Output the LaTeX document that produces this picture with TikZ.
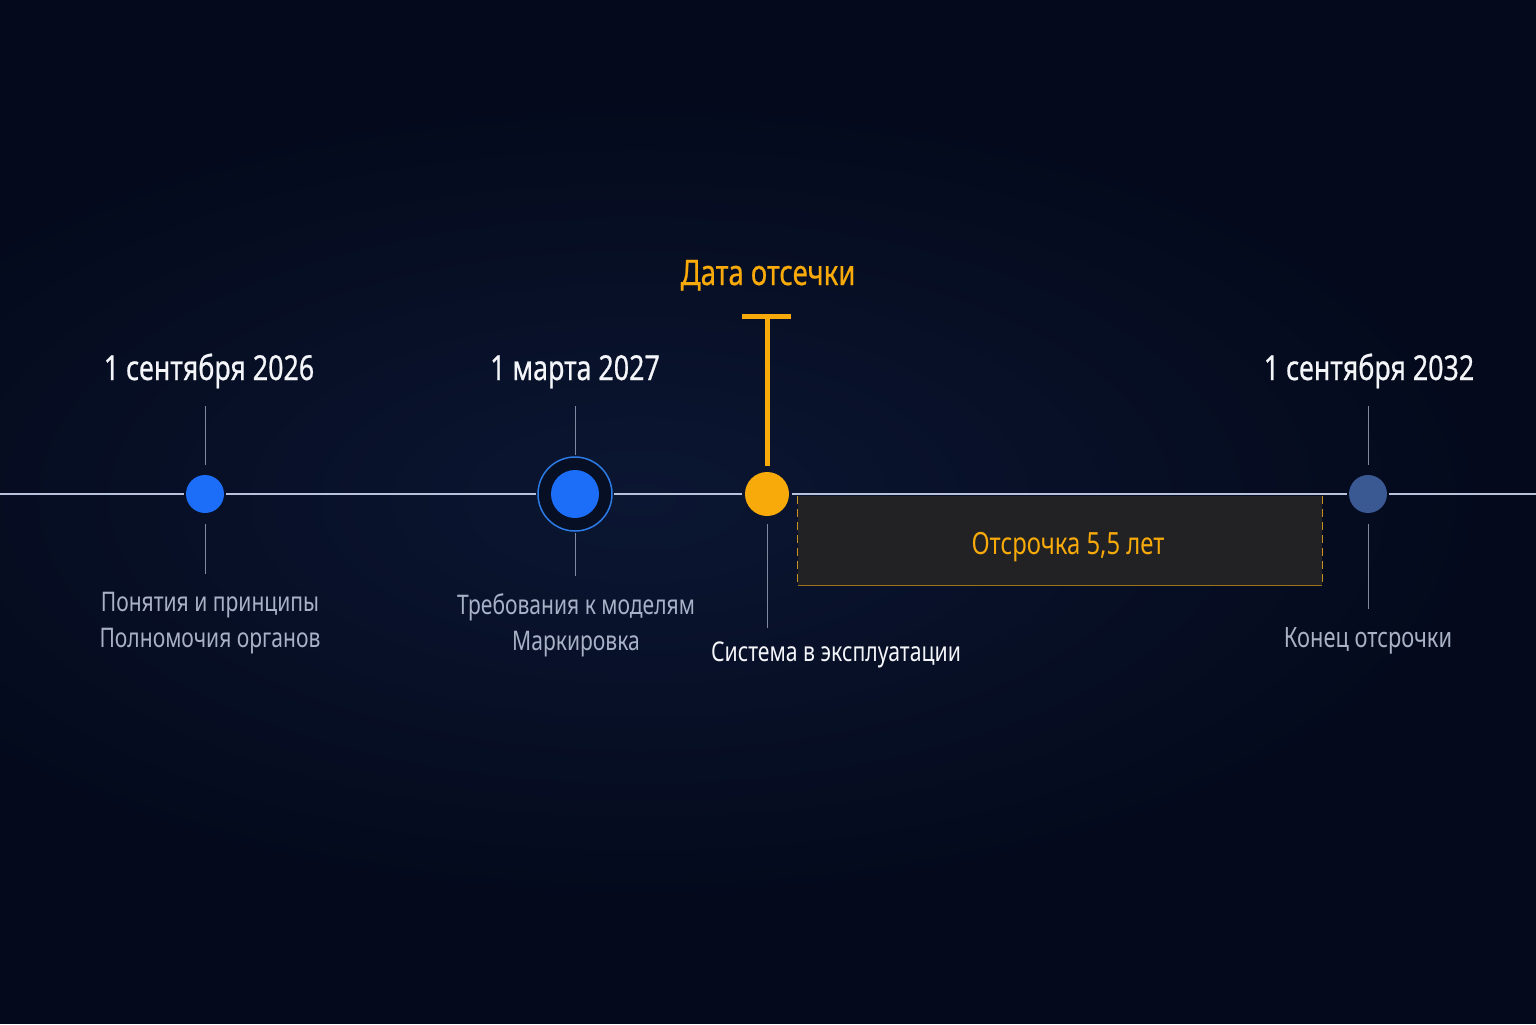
\documentclass[tikz,border=0pt]{standalone}
\usepackage{fontspec}
\setmainfont{Noto Sans}[FakeStretch=0.78]
\newfontfamily\heavyfont{Noto Sans}[FakeStretch=0.78,FakeBold=0.6]
\definecolor{bgouter}{HTML}{040A1C}
\definecolor{bginner}{HTML}{0B1632}
\definecolor{axis}{HTML}{B8C2DA}
\definecolor{tickc}{HTML}{7E889E}
\definecolor{blue1}{HTML}{1C6DF8}
\definecolor{ringc}{HTML}{2C7BE6}
\definecolor{orng}{HTML}{F7AA0A}
\definecolor{muted}{HTML}{3A5892}
\definecolor{greytxt}{HTML}{A9B1C6}
\definecolor{whitetxt}{HTML}{F3F5F9}
\definecolor{boxfill}{HTML}{222224}
\definecolor{boxedge}{HTML}{C8901E}
\begin{document}
\begin{tikzpicture}[x=0.5pt,y=-0.5pt,
  axisline/.style={draw=axis,line width=0.8pt},
  tickline/.style={draw=tickc,line width=0.5pt},
  dotbase/.style={circle,inner sep=0pt,outer sep=0pt},
  bluedot/.style={dotbase,fill=blue1,minimum size=19pt},
  ringdot/.style={dotbase,draw=ringc,line width=0.75pt,fill=bgouter!60!bginner,minimum size=37pt},
  innerdot/.style={dotbase,fill=blue1,minimum size=24pt},
  orangedot/.style={dotbase,fill=orng,minimum size=22pt},
  muteddot/.style={dotbase,fill=muted,minimum size=19pt},
  datelabel/.style={anchor=base,text=whitetxt,font=\heavyfont\fontsize{17.2}{20}\selectfont,inner sep=0pt},
  sublabel/.style={anchor=base,text=greytxt,font=\fontsize{13.5}{16}\selectfont,inner sep=0pt},
  cutlabel/.style={anchor=base,text=orng,font=\heavyfont\fontsize{17.6}{19}\selectfont,inner sep=0pt},
  marker/.style={draw=orng,line width=2.5pt},
  delaybox/.style={fill=boxfill,draw=none,inner sep=0pt,minimum width=262pt,minimum height=44.5pt},
  boxside/.style={draw=boxedge,line width=0.5pt,dash pattern=on 4pt off 2.5pt},
  boxbottom/.style={draw=boxedge!80!black,line width=0.5pt}
]
\useasboundingbox (0,0) rectangle (1536,1024);
\fill[bgouter] (0,0) rectangle (1536,1024);
\shade[inner color=bginner,outer color=bgouter] (640,500) ellipse [x radius=850,y radius=400];

% axis coordinates
\coordinate (lstart) at (0,494);
\coordinate (lend) at (1536,494);

% delay box
\node[delaybox] (bx) at (1060,540.5) {};
\draw[boxside] (bx.north west) -- (bx.south west);
\draw[boxside] (bx.north east) -- (bx.south east);
\draw[boxbottom] (bx.south west) -- (bx.south east);
\node[anchor=base,text=orng,font=\fontsize{15.3}{18}\selectfont,inner sep=0pt] (bxt) at (1068,554) {Отсрочка 5,5 лет};

% dots
\node[bluedot] (d1) at (205,494) {};
\node[ringdot] (d2) at (575,494) {};
\node[innerdot] (d2c) at (575,494) {};
\node[orangedot] (d3) at (767,494) {};
\node[muteddot] (d4) at (1368,494) {};

% axis segments
\draw[axisline] (lstart) -- ([xshift=-1pt]d1.west);
\draw[axisline] ([xshift=1pt]d1.east) -- ([xshift=-1pt]d2.west);
\draw[axisline] ([xshift=1pt]d2.east) -- ([xshift=-1.5pt]d3.west);
\draw[axisline] ([xshift=1.5pt]d3.east) -- ([xshift=-1pt]d4.west);
\draw[axisline] ([xshift=1pt]d4.east) -- (lend);

% tick lines
\coordinate (t1a) at (205,406); \coordinate (t1b) at (205,465);
\coordinate (t1c) at (205,524); \coordinate (t1d) at (205,574);
\coordinate (t2a) at (575,406); \coordinate (t2b) at (575,455);
\coordinate (t2c) at (575,533); \coordinate (t2d) at (575,576);
\coordinate (t3c) at (767,524); \coordinate (t3d) at (767,628);
\coordinate (t4a) at (1368,406); \coordinate (t4b) at (1368,465);
\coordinate (t4c) at (1368,524); \coordinate (t4d) at (1368,609);
\draw[tickline] (t1a) -- (t1b); \draw[tickline] (t1c) -- (t1d);
\draw[tickline] (t2a) -- (t2b); \draw[tickline] (t2c) -- (t2d);
\draw[tickline] (t3c) -- (t3d);
\draw[tickline] (t4a) -- (t4b); \draw[tickline] (t4c) -- (t4d);

% cut-off marker
\coordinate (mtop) at (767,316);
\coordinate (mbot) at (767,466);
\coordinate (mbl) at (742,316);
\coordinate (mbr) at (791,316);
\draw[marker] (mbot) -- (mtop);
\draw[marker] (mbl) -- (mbr);
\node[cutlabel] (cut) at (768,285) {Дата отсечки};

% date labels
\node[datelabel] (l1) at (209,380) {1 сентября 2026};
\node[datelabel] (l2) at (575,380) {1 марта 2027};
\node[datelabel] (l4) at (1369,380) {1 сентября 2032};

% sub labels
\node[sublabel] (s1a) at (210,611) {Понятия и принципы};
\node[sublabel] (s1b) at (210,647) {Полномочия органов};
\node[sublabel] (s2a) at (576,614) {Требования к моделям};
\node[sublabel] (s2b) at (576,650) {Маркировка};
\node[sublabel,text=whitetxt,font=\fontsize{13.6}{16}\selectfont] (s3) at (836,661) {Система в эксплуатации};
\node[sublabel,font=\fontsize{14}{16}\selectfont] (s4) at (1368,647) {Конец отсрочки};
\end{tikzpicture}
\end{document}
